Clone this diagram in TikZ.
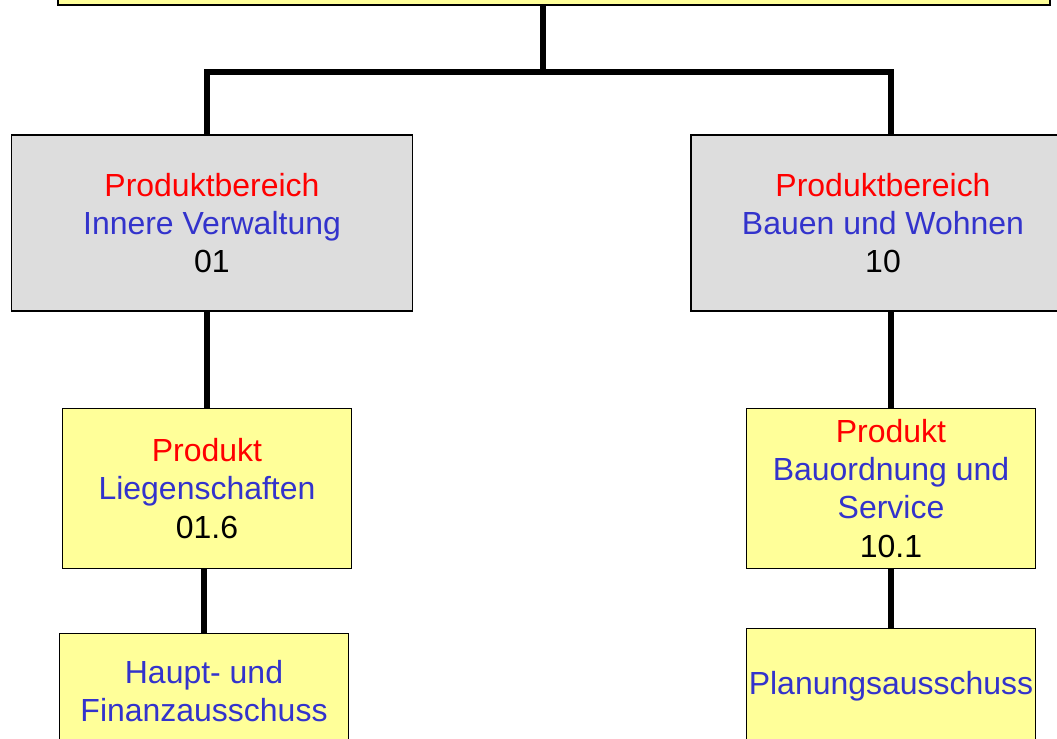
\documentclass[tikz,border=0pt]{standalone}
\usepackage{fontspec}
\setmainfont{Liberation Sans}
\usepackage{xcolor}
\definecolor{boxgray}{HTML}{DDDDDD}
\definecolor{boxyellow}{HTML}{FFFF99}
\definecolor{textblue}{HTML}{3333CC}
\definecolor{textred}{HTML}{FF0000}
\usetikzlibrary{positioning}

\begin{document}
\begin{tikzpicture}[
        x=0.02cm, y=-0.02cm,
        font=\fontsize{18.2}{21.8}\selectfont,
        area_box/.style={
            rectangle,
            draw=black,
            line width=0.8pt,
            fill=boxgray,
            align=center,
            inner sep=0pt,
            minimum width=8.02cm,
            minimum height=3.52cm
        },
        prod_box/.style={
            area_box,
            fill=boxyellow,
            minimum width=5.78cm,
            minimum height=3.2cm
        },
        comm_box/.style={
            prod_box,
            minimum height=2.3cm
        },
        link/.style={
            draw=black,
            line width=3.2pt
        }
    ]

    % Frame of the picture
    \useasboundingbox (0,0) rectangle (1057,739);

    % Top box (cut off at the upper edge)
    \node[area_box, fill=boxyellow, minimum width=19.84cm, minimum height=1.6cm] (amt) at (554,-35) {};

    % Product areas
    \node[area_box] (pb_innen) at (212,223) {\textcolor{textred}{Produktbereich}\\\textcolor{textblue}{Innere Verwaltung}\\01};
    \node[area_box, minimum width=7.68cm] (pb_bauen) at (883,223) {\textcolor{textred}{Produktbereich}\\\textcolor{textblue}{Bauen und Wohnen}\\10};

    % Products
    \node[prod_box, below=1.92cm of pb_innen, xshift=-0.1cm] (p_liegen) {\textcolor{textred}{Produkt}\\\textcolor{textblue}{Liegenschaften}\\01.6};
    \node[prod_box, below=1.92cm of pb_bauen, xshift=0.16cm] (p_bau) {\textcolor{textred}{Produkt}\\\textcolor{textblue}{Bauordnung und}\\\textcolor{textblue}{Service}\\10.1};

    % Committees
    \node[comm_box, below=1.28cm of p_liegen, xshift=-0.06cm] (aus_haupt) {\textcolor{textblue}{Haupt- und}\\\textcolor{textblue}{Finanzausschuss}};
    \node[comm_box, below=1.18cm of p_bau] (aus_plan) {\textcolor{textblue}{Planungsausschuss}};

    % Connectors
    \coordinate (hub) at (543,72);
    \draw[link] (hub) -- (hub |- amt.south);
    \draw[link] (p_liegen.north |- pb_innen.north) |- (hub) -| (p_bau.north |- pb_bauen.north);
    \draw[link] (p_liegen.north |- pb_innen.south) -- (p_liegen.north);
    \draw[link] (p_bau.north |- pb_bauen.south) -- (p_bau.north);
    \draw[link] (aus_haupt.north |- p_liegen.south) -- (aus_haupt.north);
    \draw[link] (p_bau.south) -- (aus_plan.north);

\end{tikzpicture}
\end{document}
